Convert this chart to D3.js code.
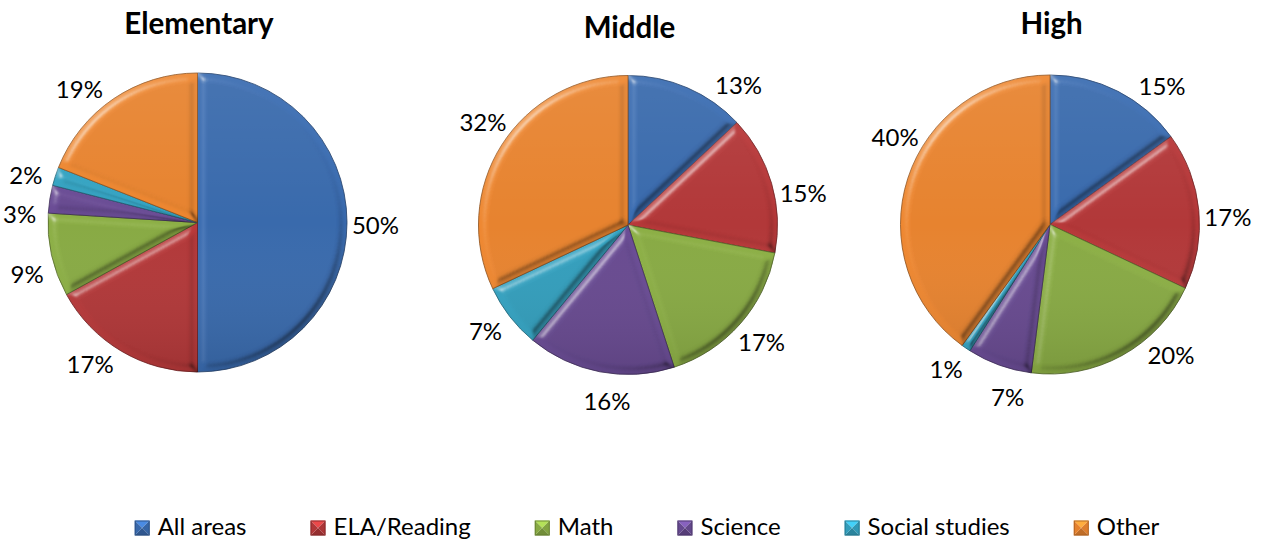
<!DOCTYPE html>
<html>
<head>
<meta charset="utf-8">
<script src="https://cdn.jsdelivr.net/npm/d3@7/dist/d3.min.js"></script>
<style>
  html, body { margin: 0; padding: 0; background: #ffffff; }
  svg { display: block; font-family: Lato, "Open Sans", sans-serif; }
</style>
</head>
<body>
<svg id="chart" width="1267" height="540"></svg>
<script>
// ---- data ----
const categories = ["All areas", "ELA/Reading", "Math", "Science", "Social studies", "Other"];
const levels = ["Elementary", "Middle", "High"];
const elementaryValues = [50, 17, 9, 3, 2, 19];
const middleValues = [13, 15, 17, 16, 7, 32];
const highValues = [15, 17, 20, 7, 1, 40];
const seriesValues = [elementaryValues, middleValues, highValues];

// ---- styling / layout ----
const colors = ["#3A6CB1", "#B8393A", "#8CAF45", "#6A4C95", "#34A3C2", "#EE8730"];
const pieCentersX = [197.5, 628, 1050];
const pieCentersY = [222.5, 225, 224.5];
const pieRadius = 149.5;
const titleBaselines = [34, 38, 34];
const labelRadius = 178;
// small angular tweaks (degrees) that mimic Excel's best-fit label placement
const labelNudges = [
  [1, 6.5, -4.3, -6.4, -2.6, -7.4],
  [15, 6, 0, -4, 1, 3],
  [12, 3, -14, -6, 1.5, 11.5]
];

const svg = d3.select("#chart");
const defs = svg.append("defs");

// bevel filter
const f = defs.append("filter").attr("id", "bevel")
  .attr("x", "-5%").attr("y", "-5%").attr("width", "110%").attr("height", "110%")
  .attr("color-interpolation-filters", "sRGB");
f.append("feGaussianBlur").attr("in", "SourceAlpha").attr("stdDeviation", 4.5).attr("result", "blur");
const hi = f.append("feSpecularLighting").attr("in", "blur").attr("surfaceScale", 7)
  .attr("specularConstant", 1).attr("specularExponent", 22).attr("lighting-color", "#ffffff").attr("result", "hi");
hi.append("feDistantLight").attr("azimuth", 225).attr("elevation", 22);
f.append("feColorMatrix").attr("in", "hi").attr("type", "matrix")
  .attr("values", "0 0 0 0 1  0 0 0 0 1  0 0 0 0 1  0 0 0 0.5 0").attr("result", "hiW");
f.append("feComposite").attr("in", "hiW").attr("in2", "SourceAlpha").attr("operator", "in").attr("result", "hiIn");
const sh = f.append("feSpecularLighting").attr("in", "blur").attr("surfaceScale", 7)
  .attr("specularConstant", 1).attr("specularExponent", 14).attr("lighting-color", "#ffffff").attr("result", "sh");
sh.append("feDistantLight").attr("azimuth", 45).attr("elevation", 22);
f.append("feColorMatrix").attr("in", "sh").attr("type", "matrix")
  .attr("values", "0 0 0 0 0  0 0 0 0 0  0 0 0 0 0  0 0 0 0.4 0").attr("result", "shK");
f.append("feComposite").attr("in", "shK").attr("in2", "SourceAlpha").attr("operator", "in").attr("result", "shIn");
f.append("feMerge").call(m => {
  m.append("feMergeNode").attr("in", "SourceGraphic");
  m.append("feMergeNode").attr("in", "shIn");
  m.append("feMergeNode").attr("in", "hiIn");
});

// vertical shading overlay
const g = defs.append("linearGradient").attr("id", "shade").attr("x1", 0).attr("y1", 0).attr("x2", 0).attr("y2", 1);
g.append("stop").attr("offset", "0%").attr("stop-color", "#ffffff").attr("stop-opacity", 0.07);
g.append("stop").attr("offset", "50%").attr("stop-color", "#ffffff").attr("stop-opacity", 0);
g.append("stop").attr("offset", "100%").attr("stop-color", "#000000").attr("stop-opacity", 0.10);

const color = d3.scaleOrdinal().domain(categories).range(colors);
const pie = d3.pie().sort(null).value(d => d.value);
const arc = d3.arc().innerRadius(0).outerRadius(pieRadius);

levels.forEach((level, i) => {
  const data = categories.map((c, k) => ({ category: c, value: seriesValues[i][k] }));
  const arcs = pie(data);
  const cx = pieCentersX[i], cy = pieCentersY[i];
  const gp = svg.append("g").attr("transform", `translate(${cx},${cy})`);

  gp.selectAll("path.slice").data(arcs).join("path")
    .attr("class", "slice")
    .attr("d", arc)
    .attr("fill", d => color(d.data.category))
    .attr("stroke", d => d3.color(color(d.data.category)).darker(1.5))
    .attr("stroke-width", 0.8)
    .attr("filter", "url(#bevel)");

  gp.append("circle").attr("r", pieRadius).attr("fill", "url(#shade)").attr("pointer-events", "none");

  gp.selectAll("text.lbl").data(arcs).join("text")
    .attr("class", "lbl")
    .attr("x", (d, k) => labelRadius * Math.sin((d.startAngle + d.endAngle) / 2 + labelNudges[i][k] * Math.PI / 180))
    .attr("y", (d, k) => -labelRadius * Math.cos((d.startAngle + d.endAngle) / 2 + labelNudges[i][k] * Math.PI / 180))
    .attr("dy", "0.36em")
    .attr("text-anchor", "middle")
    .attr("font-size", 24)
    .attr("fill", "#000")
    .text(d => Math.round(d.data.value) + "%");

  svg.append("text")
    .attr("x", cx + 1.5)
    .attr("y", titleBaselines[i])
    .attr("text-anchor", "middle")
    .attr("font-size", 29.5)
    .attr("font-weight", "bold")
    .attr("fill", "#000")
    .text(level);
});

// legend
const legend = svg.append("g");
const markerSize = 15, markerGap = 8, itemGap = 64, legendBaseline = 535, legendCenter = 647;
const items = legend.selectAll("g.item").data(categories).join("g").attr("class", "item");
items.append("text")
  .attr("font-size", 24)
  .attr("fill", "#000")
  .attr("y", legendBaseline)
  .text(d => d);
const widths = [];
items.select("text").each(function () { widths.push(this.getComputedTextLength()); });
const total = d3.sum(widths) + categories.length * (markerSize + markerGap) + (categories.length - 1) * itemGap;
let xPos = legendCenter - total / 2;
items.each(function (d, k) {
  const it = d3.select(this);
  const x0 = xPos, y0 = 520.5, s = markerSize;
  const c = d3.color(color(d));
  const mx = x0 + s / 2, my = y0 + s / 2;
  const tris = [
    { pts: [[x0, y0], [x0 + s, y0], [mx, my]], fill: c.brighter(0.7) },
    { pts: [[x0 + s, y0], [x0 + s, y0 + s], [mx, my]], fill: c.darker(0.2) },
    { pts: [[x0, y0 + s], [x0 + s, y0 + s], [mx, my]], fill: c.darker(0.6) },
    { pts: [[x0, y0], [x0, y0 + s], [mx, my]], fill: c.darker(0.1) }
  ];
  it.selectAll("path").data(tris).join("path")
    .attr("d", t => "M" + t.pts.map(p => p.join(",")).join("L") + "Z")
    .attr("fill", t => t.fill);
  it.append("rect").attr("x", x0 + 0.5).attr("y", y0 + 0.5).attr("width", s - 1).attr("height", s - 1)
    .attr("fill", "none").attr("stroke", c.darker(1)).attr("stroke-width", 0.8);
  it.select("text").attr("x", x0 + s + markerGap);
  xPos += s + markerGap + widths[k] + itemGap;
});
</script>
</body>
</html>
